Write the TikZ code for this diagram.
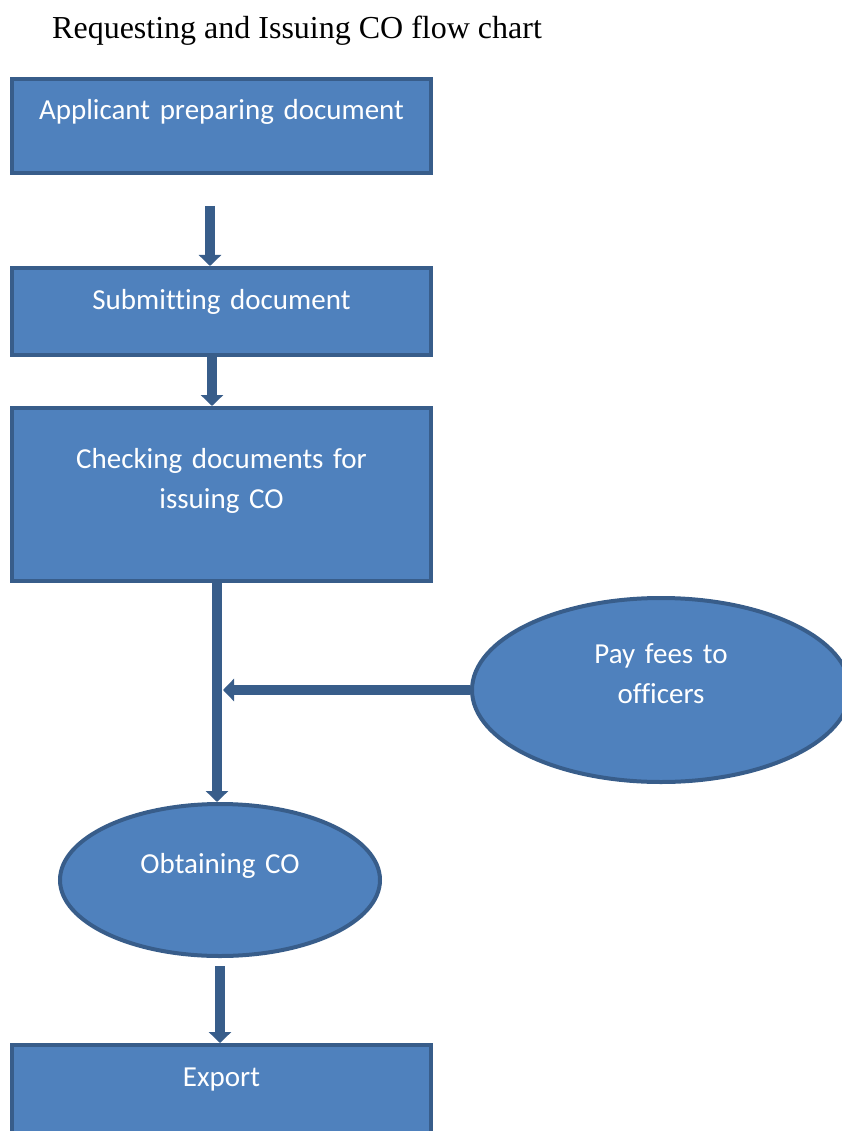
\documentclass[tikz,border=0pt]{standalone}
\usepackage{fontspec}
\setmainfont{Liberation Serif}
\newfontfamily\boxfont{Carlito}[Ligatures=NoCommon]
\usepackage{tikz}
\usetikzlibrary{shapes.geometric,arrows.meta}
\definecolor{stepfill}{HTML}{4F81BD}
\definecolor{stepline}{HTML}{385D8A}
\tikzset{
  stepnode/.style = {align=center, inner sep=0pt, text=white, font=\boxfont\fontsize{29}{40}\selectfont},
  stepbox/.style = {stepnode, rectangle, draw=stepline, fill=stepfill, line width=4pt, minimum width=419pt, text width=400pt},
  stepoval/.style = {stepnode, ellipse, draw=stepline, fill=stepfill, line width=4pt, text width=200pt},
  flow/.style = {draw=stepline, line width=10pt, -{Triangle[width=22pt,length=11pt]}},
}
\begin{document}
\begin{tikzpicture}[x=1pt, y=-1pt]
\clip (0,0) rectangle (842,1131);
\node [anchor=base west, inner sep=0pt, font=\fontsize{32}{38}\selectfont] (title) at (52,39) {Requesting and Issuing CO flow chart};

\node [stepbox, anchor=north west, text height=41pt, text depth=53pt] (prep) at (10,77) {Applicant preparing document};
\node [stepbox, anchor=north west, text height=41pt, text depth=46pt] (submit) at (10,266) {Submitting document};
\node [stepbox, anchor=north west, text height=60pt, text depth=113pt] (check) at (10,406) {Checking documents for\\issuing CO};
\node [stepoval, minimum width=378pt, minimum height=184pt, text height=30pt, text depth=84pt] (fees) at (661,690) {Pay fees to\\officers};
\node [stepoval, minimum width=320pt, minimum height=152pt, text height=30pt, text depth=44pt] (obtain) at (220,880) {Obtaining CO};
\node [stepbox, anchor=north west, text height=41pt, text depth=90pt] (export) at (10,1043) {Export};

% connectors
\coordinate (start) at (210,206);
\coordinate (pass) at (212,380);
\coordinate (join) at (217,690);
\draw [flow] (start) -- (start |- submit.north);
\draw [flow] (pass |- submit.south) -- (pass |- check.north);
\draw [flow] (join |- check.south) -- (join |- obtain.north);
\draw [flow] (fees.west) -- ([xshift=6pt]join);
\draw [flow] ([yshift=-8pt]obtain.south) -- (obtain.south |- export.north);
\end{tikzpicture}
\end{document}
